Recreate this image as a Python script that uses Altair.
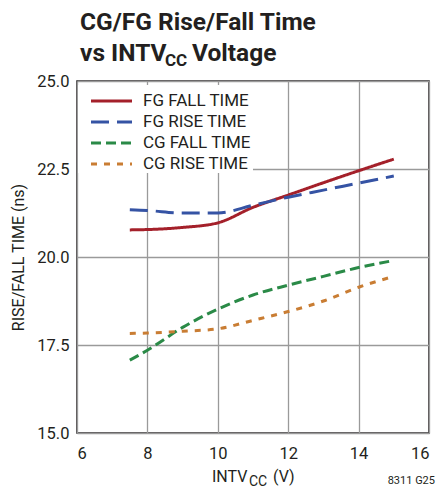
import altair as alt
import pandas as pd

FONT = "Roboto, sans-serif"

voltage = [7.5, 8, 9, 10, 11, 12, 13, 14, 15]
fg_fall = [20.77, 20.78, 20.84, 20.97, 21.41, 21.76, 22.11, 22.45, 22.78]
fg_rise = [21.34, 21.32, 21.25, 21.25, 21.47, 21.70, 21.90, 22.10, 22.30]
cg_fall = [17.07, 17.35, 18.00, 18.52, 18.92, 19.20, 19.45, 19.70, 19.90]
cg_rise = [17.83, 17.84, 17.89, 17.96, 18.20, 18.45, 18.75, 19.14, 19.45]

series_names = ["FG FALL TIME", "FG RISE TIME", "CG FALL TIME", "CG RISE TIME"]
series_vals = [fg_fall, fg_rise, cg_fall, cg_rise]
colors = ["#a4202a", "#3553a4", "#2a8a47", "#c97d33"]
dashes = [[1, 0], [18, 8], [10, 5], [6, 7]]

x_ticks = [6, 8, 10, 12, 14, 16]
y_ticks = [15, 17.5, 20, 22.5, 25]

rows = []
for name, vals in zip(series_names, series_vals):
    for v, t in zip(voltage, vals):
        rows.append({"series": name, "v": v, "t": t})
df = pd.DataFrame(rows)

lines = alt.Chart(df).mark_line(strokeWidth=3, interpolate="monotone").encode(
    x=alt.X("v:Q", scale=alt.Scale(domain=[6, 16], nice=False),
            axis=alt.Axis(values=x_ticks, title=None, format="d", labelPadding=12)),
    y=alt.Y("t:Q", scale=alt.Scale(domain=[15, 25], nice=False, zero=False),
            axis=alt.Axis(values=y_ticks, format=".1f", labelPadding=8,
                          title="RISE/FALL TIME (ns)", titleX=-59, titleY=176,
                          titleAngle=270, titleAlign="center", titleBaseline="middle",
                          titleFontSize=16, titleFontWeight="normal")),
    color=alt.Color("series:N", scale=alt.Scale(domain=series_names, range=colors),
                    sort=series_names, legend=None),
    strokeDash=alt.StrokeDash("series:N", scale=alt.Scale(domain=series_names, range=dashes),
                              sort=series_names, legend=None),
    order=alt.Order("v:Q"),
)

one = alt.Data(values=[{}])


def txt(s, x, y, size, weight="normal", align="left", baseline="alphabetic"):
    return alt.Chart(one).mark_text(
        text=s, align=align, baseline=baseline, font=FONT, fontSize=size,
        fontWeight=weight, color="#231f20"
    ).encode(x=alt.value(x), y=alt.value(y))


# legend (drawn by hand, to match the compact box of the reference)
legend_box = alt.Chart(one).mark_rect(fill="white", stroke=None).encode(
    x=alt.value(1), x2=alt.value(176), y=alt.value(4), y2=alt.value(92)
)
legend_rows_y = [20, 41, 62, 83]
legend_layers = []
for name, col, dash, ly in zip(series_names, colors, dashes, legend_rows_y):
    legend_layers.append(
        alt.Chart(one).mark_rule(color=col, strokeWidth=3, strokeDash=dash).encode(
            x=alt.value(14), x2=alt.value(55), y=alt.value(ly)
        )
    )
    legend_layers.append(txt(name, 66, ly, 17, baseline="middle"))

texts = [
    txt("CG/FG Rise/Fall Time", 3, -51, 24.5, "bold"),
    txt("vs INTV", 3, -20, 24.5, "bold"),
    txt("CC", 88, -15, 17, "bold"),
    txt("Voltage", 115, -20, 24.5, "bold"),
    txt("INTV", 135, 401, 16),
    txt("CC", 172, 405, 14),
    txt("(V)", 196, 401, 16),
    txt("8311 G25", 358, 403, 11, align="right"),
]

chart = alt.layer(legend_box, lines, *legend_layers, *texts).properties(
    width=352, height=352,
    autosize=alt.AutoSizeParams(type="none"),
    padding={"left": 69, "top": 73, "right": 7, "bottom": 55},
).configure_view(stroke="#231f20", strokeWidth=1.5).configure_axis(
    grid=True, gridColor="#9a9a9a", gridWidth=1.3, domain=False, ticks=False,
    labelFont=FONT, labelFontSize=16.5, labelColor="#231f20",
    titleFont=FONT, titleColor="#231f20",
)

chart.save("out.html", embed_options={"renderer": "svg", "actions": False})
